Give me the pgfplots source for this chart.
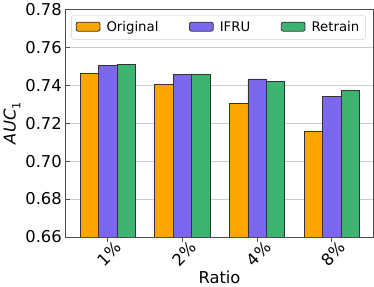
\documentclass[border=0pt]{standalone}
\usepackage{pgfplots}
\pgfplotsset{compat=1.18}
\usepackage{fontspec}
\setmainfont{DejaVu Sans}
\definecolor{corig}{HTML}{FFA500}
\definecolor{cifru}{HTML}{7B68EE}
\definecolor{cretr}{HTML}{3CB371}
\begin{document}
\begin{tikzpicture}
\begin{axis}[
  scale only axis,
  width=301bp, height=222bp,
  ymin=0.66, ymax=0.78,
  ytick={0.66,0.68,...,0.78},
  xmin=-0.57, xmax=3.56,
  xtick={0,1,2,3},
  xticklabels={1\%,2\%,4\%,8\%},
  x tick label style={rotate=45, anchor=north east, inner sep=0pt, xshift=6pt, yshift=-3pt},
  /pgf/number format/assume math mode=true,
  yticklabel style={/pgf/number format/fixed, /pgf/number format/fixed zerofill, /pgf/number format/precision=2},
  tick label style={font=\fontsize{16}{16}\selectfont},
  ymajorgrids, grid style={gray!40, line width=0.8pt},
  axis line style={black!70, line width=0.8pt},
  major tick length=5pt,
  tick style={black!70, line width=0.8pt},
  xtick pos=bottom, ytick pos=left,
  ybar=0pt, bar width=18bp,
  xlabel={Ratio},
  ylabel={{\itshape AUC}\raisebox{-0.3em}{\fontsize{11}{11}\selectfont 1}},
  label style={font=\fontsize{16}{16}\selectfont},
  ylabel style={yshift=-2pt},
  xlabel style={yshift=0pt},
  legend columns=3,
  legend style={at={(0.02,0.975)}, anchor=north west, font=\fontsize{13}{13}\selectfont,
    draw=gray!40, rounded corners=2pt, inner xsep=4pt, inner ysep=4pt,
    /tikz/every odd column/.append style={column sep=4pt},
    /tikz/every even column/.append style={column sep=28pt}},
  legend image code/.code={\draw[#1, draw=black!80] (0cm,-0.13cm) rectangle (0.82cm,0.18cm);},
]
\addplot[fill=corig, draw=black!80, line width=0.8pt] coordinates {(0,0.7465) (1,0.7405) (2,0.7306) (3,0.7155)};
\addplot[fill=cifru, draw=black!80, line width=0.8pt] coordinates {(0,0.7504) (1,0.7456) (2,0.7434) (3,0.7342)};
\addplot[fill=cretr, draw=black!80, line width=0.8pt] coordinates {(0,0.7511) (1,0.7456) (2,0.7422) (3,0.7371)};
\legend{Original,IFRU,Retrain}
\end{axis}
\end{tikzpicture}
\end{document}
